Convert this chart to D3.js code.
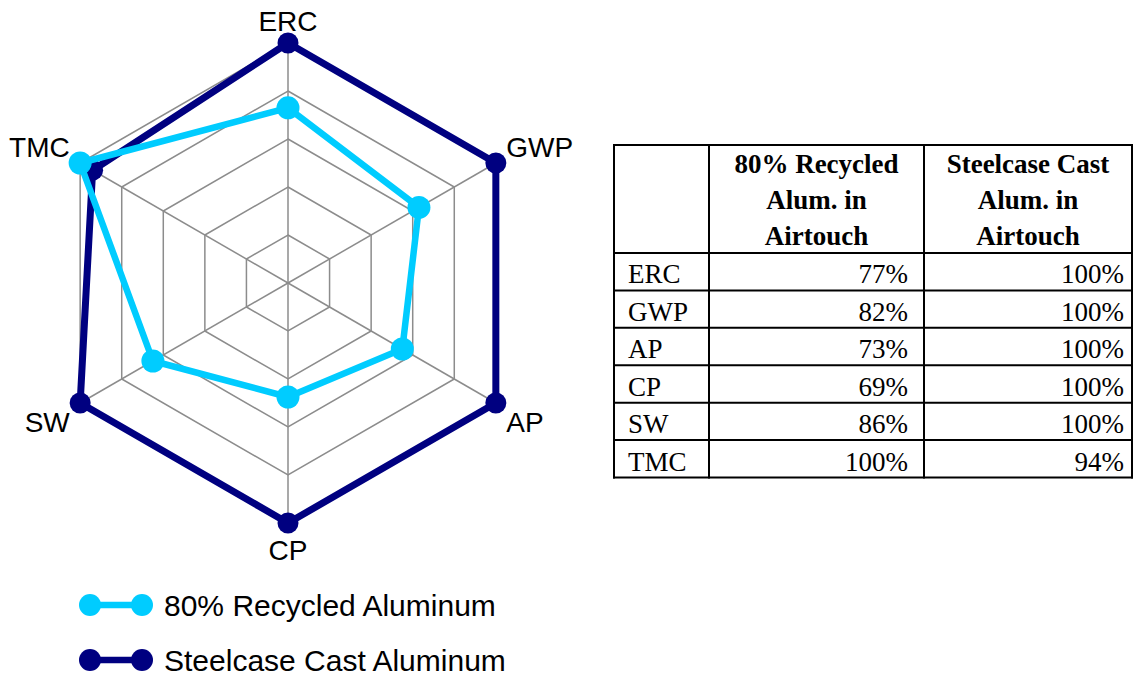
<!DOCTYPE html>
<html>
<head>
<meta charset="utf-8">
<script src="https://cdn.jsdelivr.net/npm/d3@7"></script>
<style>
  body { margin: 0; background: #fff; }
  svg { display: block; }
</style>
</head>
<body>
<svg id="chart" width="1135" height="682"></svg>
<script>
// radar axes + values
var axes = ['ERC', 'GWP', 'AP', 'CP', 'SW', 'TMC']
var recycled = [0.73, 0.63, 0.55, 0.475, 0.65, 1.0]
var steelcase = [1.0, 1.0, 1.0, 1.0, 1.0, 0.94]
var ringTicks = [0.2, 0.4, 0.6, 0.8, 1.0]

// table
var colHeads = [['80% Recycled', 'Alum. in', 'Airtouch'], ['Steelcase Cast', 'Alum. in', 'Airtouch']]
var tabRecycled = ['77%', '82%', '73%', '69%', '86%', '100%']
var tabSteel = ['100%', '100%', '100%', '100%', '100%', '94%']

var seriesNames = ['80% Recycled Aluminum', 'Steelcase Cast Aluminum']
var lightBlue = '#00ccff', navy = '#000080'

svg = d3.select('#chart')

cx = 288
cy = 283
R = 240

rScale = d3.scaleLinear().domain([0, 1]).range([0, R])
angle = d3.scalePoint().domain(axes.concat(['_end'])).range([0, 2 * Math.PI])

radar = svg.append('g').attr('transform', 'translate(' + cx + ',' + cy + ')')

function pt(name, v){
  var a = angle(name)
  return [rScale(v) * Math.sin(a), -rScale(v) * Math.cos(a)]
}

// grid rings
radar.selectAll('.ring').data(ringTicks)
  .enter().append('polygon')
  .attr('class', 'ring')
  .attr('points', function(t){ return axes.map(function(a){ return pt(a, t).join(',') }).join(' ') })
  .attr('fill', 'none')
  .attr('stroke', '#8c8c8c')
  .attr('stroke-width', 1.5)

// spokes
radar.selectAll('.spoke').data(axes)
  .enter().append('line')
  .attr('class', 'spoke')
  .attr('x1', 0).attr('y1', 0)
  .attr('x2', function(a){ return pt(a, 1)[0] })
  .attr('y2', function(a){ return pt(a, 1)[1] })
  .attr('stroke', '#8c8c8c')
  .attr('stroke-width', 1.5)

var line = d3.lineRadial()
  .angle(function(d, i){ return angle(axes[i]) })
  .radius(function(d){ return rScale(d) })
  .curve(d3.curveLinearClosed)

var series = [{vals: steelcase, color: navy, w: 7, r: 10.5}, {vals: recycled, color: lightBlue, w: 6.5, r: 11.5}]

series.forEach(function(s){
  radar.append('path')
    .datum(s.vals)
    .attr('d', line)
    .attr('fill', 'none')
    .attr('stroke', s.color)
    .attr('stroke-width', s.w)
    .attr('stroke-linejoin', 'round')

  radar.selectAll(null).data(s.vals)
    .enter().append('circle')
    .attr('cx', function(d, i){ return pt(axes[i], d)[0] })
    .attr('cy', function(d, i){ return pt(axes[i], d)[1] })
    .attr('r', s.r)
    .attr('fill', s.color)
})

// axis labels
radar.selectAll('.lbl').data(axes)
  .enter().append('text')
  .attr('class', 'lbl')
  .attr('x', function(a){ return (R + 12) * Math.sin(angle(a)) })
  .attr('y', function(a){
    var c = Math.cos(angle(a))
    var y = -(R + 12) * c
    if(c < -0.9) return y + 25
    if(c < 0) return y + 23
    return y
  })
  .attr('text-anchor', function(a){
    var s = Math.sin(angle(a))
    return Math.abs(s) < 0.01 ? 'middle' : (s > 0 ? 'start' : 'end')
  })
  .text(function(a){ return a })
  .style('font-family', '"Liberation Sans", Arial, sans-serif')
  .style('font-size', '28px')
  .style('fill', '#000')

// legend
legend = svg.append('g')
legend.selectAll('.leg').data(seriesNames)
  .enter().append('g')
  .attr('class', 'leg')
  .attr('transform', function(d, i){ return 'translate(0,' + (605 + i * 55) + ')' })
  .each(function(d, i){
    var g = d3.select(this)
    var col = i == 0 ? lightBlue : navy
    g.append('line').attr('x1', 90).attr('x2', 142).attr('y1', 0).attr('y2', 0)
      .attr('stroke', col).attr('stroke-width', 6.5)
    g.append('circle').attr('cx', 90).attr('cy', 0).attr('r', 11).attr('fill', col)
    g.append('circle').attr('cx', 142).attr('cy', 0).attr('r', 11).attr('fill', col)
    g.append('text').attr('x', 164).attr('y', 11).text(d)
      .style('font-family', '"Liberation Sans", Arial, sans-serif')
      .style('font-size', '30px')
  })

// table
tx = [614, 709, 924, 1132]
headTop = 145
headBot = 253
rowY = d3.scaleBand().domain(axes).range([headBot, 477.5])

tab = svg.append('g')
serif = '"Liberation Serif", "Times New Roman", serif'

// header text
colHeads.forEach(function(lines, c){
  var mid = (tx[c + 1] + tx[c + 2]) / 2
  lines.forEach(function(t, j){
    tab.append('text')
      .attr('x', mid)
      .attr('y', 173 + j * 36)
      .attr('text-anchor', 'middle')
      .text(t)
      .style('font-family', serif)
      .style('font-weight', 'bold')
      .style('font-size', '27px')
  })
})

tab.selectAll('.rowlbl').data(axes)
  .enter().append('text')
  .attr('x', 628)
  .attr('y', function(a){ return rowY(a) + rowY.bandwidth() - 7 })
  .text(function(a){ return a })
  .style('font-family', serif).style('font-size', '27px')

tab.selectAll('.c1').data(tabRecycled)
  .enter().append('text')
  .attr('x', 908)
  .attr('y', function(d, i){ return rowY(axes[i]) + rowY.bandwidth() - 7 })
  .attr('text-anchor', 'end')
  .text(function(d){ return d })
  .style('font-family', serif).style('font-size', '27px')

tab.selectAll('.c2').data(tabSteel)
  .enter().append('text')
  .attr('x', 1124)
  .attr('y', function(d, i){ return rowY(axes[i]) + rowY.bandwidth() - 7 })
  .attr('text-anchor', 'end')
  .text(function(d){ return d })
  .style('font-family', serif).style('font-size', '27px')

// grid lines of the table
var hLines = [headTop, headBot].concat(axes.map(function(a){ return rowY(a) + rowY.bandwidth() }))
tab.selectAll('.hl').data(hLines)
  .enter().append('line')
  .attr('x1', tx[0] - 1).attr('x2', tx[3] + 1)
  .attr('y1', function(d){ return d }).attr('y2', function(d){ return d })
  .attr('stroke', '#000').attr('stroke-width', 2)

tab.selectAll('.vl').data(tx)
  .enter().append('line')
  .attr('x1', function(d){ return d }).attr('x2', function(d){ return d })
  .attr('y1', headTop - 1).attr('y2', hLines[hLines.length - 1] + 1)
  .attr('stroke', '#000').attr('stroke-width', 2)
</script>
</body>
</html>
